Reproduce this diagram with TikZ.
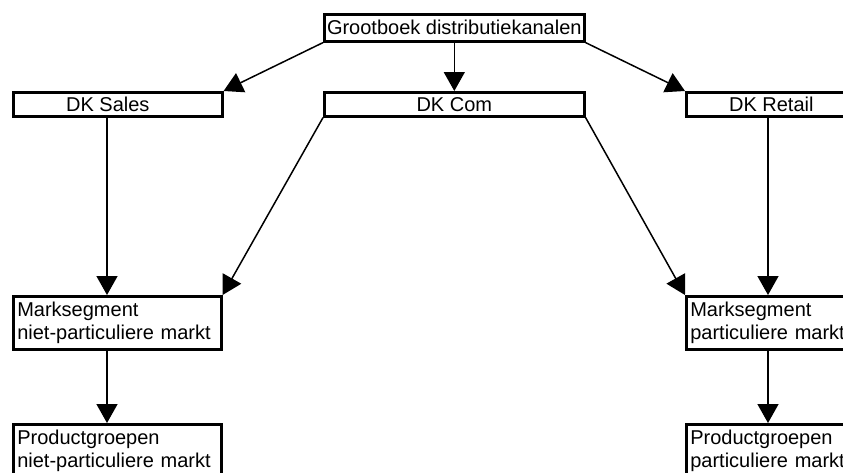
\documentclass[tikz,border=0pt]{standalone}
\usepackage{fontspec}
\setmainfont{Liberation Sans}
\usetikzlibrary{arrows.meta}
\begin{document}
\begin{tikzpicture}[x=1pt,y=-1pt,
  box/.style={draw, line width=2.6pt, anchor=north west, inner sep=0pt,
    font=\fontsize{20}{23}\selectfont},
  cbox/.style={box, align=center, minimum width=#1, minimum height=24},
  lbox/.style={box, align=left, inner xsep=4pt, text width=#1, minimum height=53},
  arr/.style={-{Triangle[length=19pt,width=21pt]}, line width=1.5pt}]
\clip (0,0) rectangle (843,472);
\fill[white] (0,0) rectangle (843,472);
% nodes
\node[cbox=260, minimum height=27] (g) at (323,13) {Grootboek distributiekanalen};
\node[cbox=209] (s) at (12,91) {DK Sales\hspace*{20pt}};
\node[cbox=260] (c) at (323,91) {DK Com};
\node[cbox=170] (r) at (685,91) {DK Retail};
\node[lbox=200] (mn) at (12,295) {Marksegment\\niet-particuliere markt};
\node[lbox=200] (mp) at (685,295) {Marksegment\\particuliere markt};
\node[lbox=200] (pn) at (12,423) {Productgroepen\\niet-particuliere markt};
\node[lbox=200] (pp) at (685,423) {Productgroepen\\particuliere markt};
\coordinate (xl) at (107,0);
\coordinate (xr) at (768,0);
% connectors
\draw[arr] (g.south west) -- (s.north east);
\draw[arr] (g.south) -- (c.north);
\draw[arr] (g.south east) -- (r.north west);
\draw[arr] (s.south -| xl) -- (mn.north -| xl);
\draw[arr] (c.south west) -- (mn.north east);
\draw[arr] (c.south east) -- (mp.north west);
\draw[arr] (r.south -| xr) -- (mp.north -| xr);
\draw[arr] (mn.south -| xl) -- (pn.north -| xl);
\draw[arr] (mp.south -| xr) -- (pp.north -| xr);
\end{tikzpicture}
\end{document}
